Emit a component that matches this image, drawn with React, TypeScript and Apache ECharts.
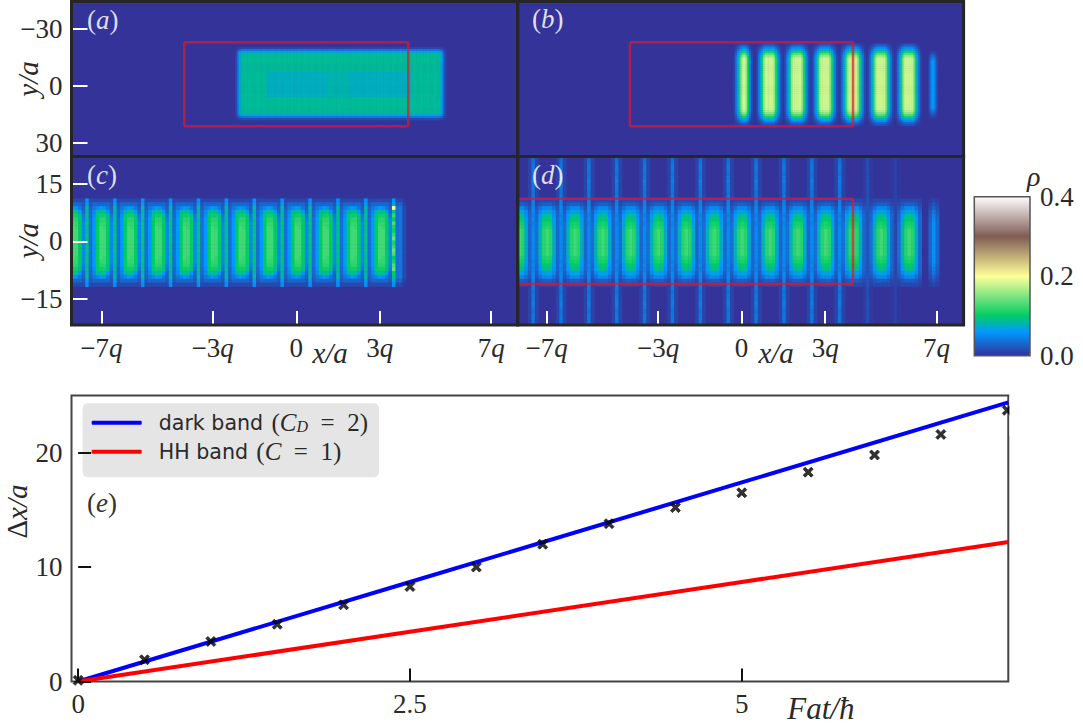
import React, { useEffect, useRef } from "react";
import * as echarts from "echarts";

// ---------- colour scale ("terrain") ----------
const terrainStops = [
  "#333399", "#2255bb", "#1177dd", "#0099ff", "#00b2b2", "#00cc66", "#33d670",
  "#66e07a", "#99eb85", "#ccf58f", "#ffff99", "#e6de8b", "#ccbe7d", "#b39d70",
  "#997d62", "#805c54", "#997d76", "#b39d98", "#ccbebb", "#e6dedd", "#ffffff",
];

// ---------- panel (a): flat block ----------
const aOuterColumnRuns = [[0.012, 1], [0.035, 1], [0.065, 1], [0.08, 1], [0.087, 113], [0.08, 1], [0.065, 1], [0.035, 1], [0.012, 1]];
const aInnerColumnRuns = [[0.012, 1], [0.035, 1], [0.065, 1], [0.08, 1], [0.087, 14], [0.077, 35], [0.081, 13], [0.077, 35], [0.087, 16], [0.08, 1], [0.065, 1], [0.035, 1], [0.012, 1]];
const aRowEdgeWeights = [0.15, 0.45, 0.8];
const aBlockStart = { q: -2.18, y: -19.8 };
const aBlockRows = 38;
const aInnerRows = [13, 25];

// ---------- panel (b): stripes ----------
const bStripeCentres = [1, 2, 3, 4, 5, 6];
const bStripeColumns = [0.012, 0.04, 0.07, 0.11, 0.155, 0.18, 0.18, 0.18, 0.18, 0.18, 0.155, 0.11, 0.07, 0.04, 0.012];
const bFirstCentre = 0.04;
const bFirstColumns = [0.012, 0.04, 0.07, 0.11, 0.155, 0.18, 0.18, 0.155, 0.1, 0.05, 0.015];
const bStripeRows = [0.1, 0.2, 0.32, 0.46, 0.6, 0.74, 0.86, 0.95, 1, 1, 1, 1, 1, 1, 1, 1, 1, 1, 1, 1, 1, 1];
const bLastCentre = 6.84;
const bLastColumns = [0.02, 0.05, 0.06, 0.05, 0.02];
const bLastRows = [0.15, 0.3, 0.5, 0.7, 0.85, 1, 1, 1, 1, 1, 1, 1, 1, 1, 1, 1, 1, 1];

// ---------- panel (c): pixelated stripes ----------
const cStripeCentres = [-8, -7, -6, -5, -4, -3, -2, -1, 0, 1, 2, 3];
const cStripeRows = [
  [0.012, 0.012, 0.012, 0.012, 0.012, 0.012, 0.012],
  [0.02, 0.03, 0.03, 0.03, 0.03, 0.03, 0.02],
  [0.025, 0.04, 0.05, 0.06, 0.055, 0.04, 0.025],
  [0.03, 0.05, 0.08, 0.09, 0.09, 0.06, 0.03],
  [0.03, 0.055, 0.095, 0.105, 0.105, 0.09, 0.04],
  [0.035, 0.06, 0.1, 0.115, 0.115, 0.095, 0.045],
  [0.035, 0.06, 0.1, 0.12, 0.12, 0.1, 0.05],
  [0.035, 0.06, 0.1, 0.125, 0.12, 0.1, 0.05],
  [0.035, 0.06, 0.1, 0.125, 0.125, 0.1, 0.05],
  [0.035, 0.06, 0.1, 0.125, 0.125, 0.1, 0.05],
  [0.035, 0.06, 0.1, 0.125, 0.125, 0.1, 0.05],
  [0.035, 0.06, 0.1, 0.125, 0.125, 0.1, 0.05],
];
const cThinCentres = [-7.5, -6.5, -5.5, -4.5, -3.5, -2.5, -1.5, -0.5, 0.5, 1.5, 2.5];
const cThinRows = [0.055, 0.06, 0.085, 0.08, 0.09, 0.085, 0.095, 0.09, 0.085, 0.095, 0.09, 0.095, 0.09, 0.095, 0.085, 0.09, 0.095, 0.085, 0.09, 0.08, 0.085, 0.06, 0.055];
const cLastThinCentre = 3.5;
const cLastThinRows = [0.055, 0.07, 0.2, 0.09, 0.12, 0.1, 0.13, 0.11, 0.105, 0.12, 0.14, 0.11, 0.12, 0.14, 0.13, 0.1, 0.11, 0.13, 0.14, 0.1, 0.09, 0.07, 0.055];
const cTailColumns = [0.035, 0.04, 0.012];
const cTailRows = [0.3, 0.7, 1, 1, 1, 1, 1, 1, 1, 1, 1, 1];

// ---------- panel (d): pixelated stripes and full-height lines ----------
const dStripeCentres = [-8, -7, -6, -5, -4, -3, -2, -1, 0, 1, 2, 3, 4, 5, 6];
const dStripeRows = [
  [0.008, 0.012, 0.012, 0.012, 0.012, 0.012, 0.008],
  [0.012, 0.02, 0.025, 0.025, 0.025, 0.02, 0.012],
  [0.02, 0.035, 0.05, 0.05, 0.05, 0.035, 0.02],
  [0.025, 0.05, 0.065, 0.07, 0.065, 0.05, 0.025],
  [0.03, 0.06, 0.085, 0.09, 0.085, 0.055, 0.03],
  [0.03, 0.065, 0.095, 0.1, 0.095, 0.06, 0.03],
  [0.035, 0.07, 0.105, 0.11, 0.105, 0.065, 0.03],
  [0.035, 0.075, 0.11, 0.115, 0.11, 0.07, 0.03],
  [0.035, 0.08, 0.115, 0.125, 0.115, 0.075, 0.03],
  [0.035, 0.08, 0.115, 0.125, 0.115, 0.075, 0.03],
  [0.035, 0.08, 0.115, 0.125, 0.115, 0.075, 0.03],
  [0.035, 0.08, 0.115, 0.125, 0.115, 0.075, 0.03],
];
const dThinCentres = [-7.5, -6.5, -5.5, -4.5, -3.5, -2.5, -1.5, -0.5, 0.5, 1.5, 2.5, 3.5, 4.5, 5.5];
const dThinStrengths = [1, 1, 1, 1, 1, 1, 1, 1, 1, 1, 1, 1, 0.4, 0.22];
const dThinRows = [0.032, 0.036, 0.04, 0.04, 0.036, 0.04, 0.044, 0.04, 0.04, 0.036, 0.04, 0.045, 0.045, 0.05, 0.05, 0.045, 0.05, 0.045, 0.05, 0.05, 0.05, 0.05, 0.05];
const dHalo = 0.01;
const dLastCentre = 6.84;
const dLastColumns = [0.03, 0.055, 0.03];
const dLastRows = [0.2, 0.35, 0.5, 0.7, 0.8, 0.9, 1, 1, 1, 1, 1, 1];

// ---------- red rectangles (q, y/a) ----------
const rectA = [[-4.02, -22.9], [4.02, -22.9], [4.02, 21.1], [-4.02, 21.1], [-4.02, -22.9]];
const rectB = [[-4.01, -22.9], [4.0, -22.9], [4.0, 21.1], [-4.01, 21.1], [-4.01, -22.9]];
const rectD = [[-8.6, 11.15], [4.0, 11.15], [4.0, -11.2], [-8.6, -11.2], [-8.6, 11.15]];

// ---------- panel (e) ----------
const fValues = [0, 0.5, 1, 1.5, 2, 2.5, 3, 3.5, 4, 4.5, 5, 5.5, 6, 6.5, 7];
const crossValues = [0.1, 1.9, 3.5, 5.0, 6.7, 8.3, 10.0, 12.0, 13.8, 15.2, 16.5, 18.3, 19.8, 21.6, 23.7];
const lineF = [0, 2.5, 5, 7.008];
const darkBand = [0, 8.7, 17.4, 24.4];
const hhBand = [0, 4.35, 8.7, 12.2];

const xTicksQ = [-7, -3, 0, 3, 7];
const yTicksTop = [-30, 0, 30];
const yTicksBottom = [-15, 0, 15];
const eXTicks = [0, 2.5, 5];
const eYTicks = [0, 10, 20];
const DARK_NAME = "dark band (C_D = 2)";
const HH_NAME = "HH band (C = 1)";

// ---------- layout ----------
const L = 71.5, M = 517.7, R = 963.6, T = 1.5, H = 156.5, B = 325;
const SERIF = "Liberation Serif";
const INK = "#2a2a2a";
const TICK_SIZE = 27;
const NAME_SIZE = 29;

type Panel = { xMin: number; xMax: number; yFirst: number; yLast: number; nx: number; cols: number; rows: number; cells: number[][] };
const makePanel = (xMin: number, xMax: number, yFirst: number, yLast: number, nx: number, rows: number): Panel => {
  const cols = Math.round((xMax - xMin) * nx);
  return { xMin, xMax, yFirst, yLast, nx, cols, rows, cells: Array.from({ length: rows }, () => new Array(cols).fill(0)) };
};
const colOf = (p: Panel, q: number) => Math.floor((q - p.xMin) * p.nx);
const rowOf = (p: Panel, y: number) => Math.floor(((y - p.yFirst) / (p.yLast - p.yFirst)) * p.rows);
const put = (p: Panel, c: number, r: number, v: number) => {
  if (c >= 0 && c < p.cols && r >= 0 && r < p.rows) p.cells[r][c] = v;
};
const expand = (runs: number[][]) => runs.flatMap(([v, n]) => new Array(n).fill(v));
const mirror = (half: any[]) => half.concat(half.slice(0, -1).reverse());
const toData = (p: Panel) => {
  const out: number[][] = [];
  p.cells.forEach((row, r) => row.forEach((v, c) => { if (v > 0) out.push([c, r, v]); }));
  return out;
};
const stamp = (p: Panel, q: number, y: number, cols: number[], halfRows: number[]) => {
  const rows = mirror(halfRows);
  const c0 = colOf(p, q) - Math.floor(cols.length / 2);
  const r0 = rowOf(p, y) - Math.floor(rows.length / 2);
  rows.forEach((w: number, i: number) => cols.forEach((v, j) => put(p, c0 + j, r0 + i, v * w)));
};

const buildA = () => {
  const p = makePanel(-8.07, 7.95, -44.3, 37, 16, 81);
  const outer = expand(aOuterColumnRuns), inner = expand(aInnerColumnRuns);
  const c0 = colOf(p, aBlockStart.q), r0 = rowOf(p, aBlockStart.y);
  for (let r = 0; r < aBlockRows; r++) {
    const edge = Math.min(r, aBlockRows - 1 - r);
    const w = edge < aRowEdgeWeights.length ? aRowEdgeWeights[edge] : 1;
    const src = r >= aInnerRows[0] && r <= aInnerRows[1] ? inner : outer;
    src.forEach((v, j) => put(p, c0 + j, r0 + r, v * w));
  }
  return p;
};
const buildB = () => {
  const p = makePanel(-8.04, 7.97, -44.3, 37, 16, 81);
  stamp(p, bFirstCentre, -0.95, bFirstColumns, bStripeRows);
  bStripeCentres.forEach((q) => stamp(p, q, -0.95, bStripeColumns, bStripeRows));
  stamp(p, bLastCentre, -0.95, bLastColumns, bLastRows);
  return p;
};
const buildC = () => {
  const p = makePanel(-8.07, 7.95, 22.2, -21.9, 8, 44);
  const r0 = rowOf(p, 0) - 11;
  const rows = mirror(cStripeRows);
  cStripeCentres.forEach((q) => {
    const c = colOf(p, q);
    rows.forEach((row: number[], i: number) => row.forEach((v, j) => put(p, c - 3 + j, r0 + i, v)));
  });
  cThinCentres.forEach((q) => cThinRows.forEach((v, i) => put(p, colOf(p, q), r0 + i, v)));
  cLastThinRows.forEach((v, i) => put(p, colOf(p, cLastThinCentre), r0 + i, v));
  mirror(cTailRows).forEach((w: number, i: number) => cTailColumns.forEach((v, j) => put(p, colOf(p, cLastThinCentre) + 1 + j, r0 + i, v * w)));
  return p;
};
const buildD = () => {
  const p = makePanel(-8.04, 7.97, 22.2, -21.9, 8, 44);
  const thin = mirror(dThinRows);
  const r00 = rowOf(p, 0) - 22;
  dThinCentres.forEach((q, k) => {
    const c = colOf(p, q);
    thin.forEach((v: number, i: number) => {
      put(p, c - 1, r00 + i, dHalo * dThinStrengths[k]);
      put(p, c + 1, r00 + i, dHalo * dThinStrengths[k]);
    });
  });
  const r0 = rowOf(p, 0) - 11;
  const rows = mirror(dStripeRows);
  dStripeCentres.forEach((q) => {
    const c = colOf(p, q);
    rows.forEach((row: number[], i: number) => row.forEach((v, j) => put(p, c - 3 + j, r0 + i, v)));
  });
  dThinCentres.forEach((q, k) => {
    const c = colOf(p, q);
    thin.forEach((v: number, i: number) => put(p, c, r00 + i, v * dThinStrengths[k]));
  });
  stamp(p, dLastCentre, 0, dLastColumns, dLastRows);
  return p;
};

const mathRich = {
  n: { fontFamily: SERIF, fontSize: TICK_SIZE, color: INK },
  i: { fontFamily: SERIF, fontSize: TICK_SIZE, fontStyle: "italic", color: INK },
};
const signed = (v: number) => (v < 0 ? "\u2212" + Math.abs(v) : String(v));

export default function App() {
  const ref = useRef<HTMLDivElement>(null);
  useEffect(() => {
    const chart = echarts.init(ref.current!, undefined, { renderer: "svg" });
    const panels = [buildA(), buildB(), buildC(), buildD()];
    const boxes = [
      [L, T, M, H],
      [M, T, R, H],
      [L, H, M, B],
      [M, H, R, B],
    ];
    const grids: any[] = boxes.map(([x0, y0, x1, y1]) => ({
      left: x0, top: y0, width: x1 - x0, height: y1 - y0, show: true, backgroundColor: "#333399", borderWidth: 0, outerBoundsMode: "none",
    }));
    grids.push({ left: 71.5, top: 395.5, width: 936.8, height: 286, show: true, backgroundColor: "#fff", borderColor: "#444", borderWidth: 2, outerBoundsMode: "none" });
    grids.push({ left: 974.3, top: 196.7, width: 55.7, height: 159, outerBoundsMode: "none" });

    const xAxes: any[] = [], yAxes: any[] = [], series: any[] = [];
    panels.forEach((p, k) => {
      const hasX = k >= 2, hasY = k === 0 || k === 2;
      xAxes.push({ type: "category", gridIndex: k, show: false, data: Array.from({ length: p.cols }, (_, i) => String(i)) });
      yAxes.push({ type: "category", gridIndex: k, show: false, inverse: true, data: Array.from({ length: p.rows }, (_, i) => String(i)) });
      xAxes.push({
        type: "value", gridIndex: k, position: "bottom", min: p.xMin, max: p.xMax, show: hasX, z: 5,
        axisLine: { show: false }, splitLine: { show: false },
        axisTick: { show: true, inside: true, length: 14, customValues: xTicksQ, lineStyle: { color: "#fff", width: 2 } },
        axisLabel: {
          show: true, margin: 9, customValues: xTicksQ, color: INK, rich: mathRich,
          formatter: (v: number) => (v === 0 ? "{n|0}" : `{n|${v < 0 ? "\u2212" : ""}${Math.abs(v)}}{i|q}`),
        },
        name: "x/a", nameLocation: "middle", nameGap: 13, nameMoveOverlap: false,
        nameTextStyle: { fontFamily: SERIF, fontSize: NAME_SIZE, fontStyle: "italic", color: INK, padding: [0, 0, 0, 71] },
      });
      yAxes.push({
        type: "value", gridIndex: k, position: "left", show: hasY, z: 5,
        min: k < 2 ? p.yFirst : p.yLast, max: k < 2 ? p.yLast : p.yFirst, inverse: k < 2,
        axisLine: { show: false }, splitLine: { show: false },
        axisTick: { show: true, inside: true, length: 16, customValues: k < 2 ? yTicksTop : yTicksBottom, lineStyle: { color: "#fff", width: 2 } },
        axisLabel: { show: true, margin: 9, customValues: k < 2 ? yTicksTop : yTicksBottom, fontFamily: SERIF, fontSize: TICK_SIZE, color: INK, formatter: signed },
        name: "y/a", nameLocation: "middle", nameGap: 29, nameRotate: 90, nameMoveOverlap: false,
        nameTextStyle: { fontFamily: SERIF, fontSize: NAME_SIZE, fontStyle: "italic", color: INK },
      });
      series.push({
        type: "heatmap", xAxisIndex: 2 * k, yAxisIndex: 2 * k, data: toData(p), progressive: 0, silent: true,
        emphasis: { disabled: true },
      });
    });
    const rectStyle = { color: "rgba(226,22,44,0.72)", width: 2.5 };
    [[0, rectA], [1, rectB], [3, rectD]].forEach(([k, pts]: any) => {
      series.push({
        type: "line", xAxisIndex: 2 * k + 1, yAxisIndex: 2 * k + 1, data: pts, symbol: "none", silent: true, z: 4,
        lineStyle: rectStyle, clip: true,
      });
    });

    // panel (e)
    const eX = xAxes.length, eY = yAxes.length;
    xAxes.push({
      type: "value", gridIndex: 4, min: -0.05, max: 7.008, z: 5,
      axisLine: { show: false }, splitLine: { show: false },
      axisTick: { show: true, inside: true, length: 13, customValues: eXTicks, lineStyle: { color: "#111", width: 2 } },
      axisLabel: { margin: 9, customValues: eXTicks, fontFamily: SERIF, fontSize: TICK_SIZE, color: INK, formatter: (v: number) => String(v) },
      name: "Fat/\u0127", nameLocation: "middle", nameGap: 11, nameMoveOverlap: false,
      nameTextStyle: { fontFamily: SERIF, fontSize: 31, fontStyle: "italic", color: INK, padding: [0, 0, 0, 562] },
    });
    yAxes.push({
      type: "value", gridIndex: 4, min: 0, max: 25, z: 5,
      axisLine: { show: false }, splitLine: { show: false },
      axisTick: { show: true, inside: true, length: 13, customValues: eYTicks, lineStyle: { color: "#111", width: 2 } },
      axisLabel: { margin: 9, customValues: eYTicks, fontFamily: SERIF, fontSize: TICK_SIZE, color: INK, formatter: (v: number) => String(v) },
      name: "{u|\u0394}{i|x/a}", nameLocation: "middle", nameGap: 40, nameRotate: 90, nameMoveOverlap: false,
      nameTextStyle: {
        padding: [0, 0, 0, 54],
        rich: { u: { fontFamily: SERIF, fontSize: NAME_SIZE, color: INK }, i: { fontFamily: SERIF, fontSize: NAME_SIZE, fontStyle: "italic", color: INK } },
      },
    });
    const bandLine = (name: string, ys: number[], color: string) => ({
      name, type: "line", xAxisIndex: eX, yAxisIndex: eY, data: lineF.map((f, i) => [f, ys[i]]), symbol: "none", silent: true, z: 3,
      lineStyle: { color, width: 4 }, itemStyle: { color },
    });
    series.push(bandLine(DARK_NAME, darkBand, "#0000ff"), bandLine(HH_NAME, hhBand, "#ff0000"));
    series.push({
      name: "simulation", type: "scatter", xAxisIndex: eX, yAxisIndex: eY, data: fValues.map((f, i) => [f, crossValues[i]]), silent: true, z: 4,
      symbol: "path://M2 0 L5 3 L8 0 L10 2 L7 5 L10 8 L8 10 L5 7 L2 10 L0 8 L3 5 L0 2 Z", symbolSize: 10, itemStyle: { color: "#000", borderColor: "#000", borderWidth: 0.8 },
    });

    // colour bar axis
    xAxes.push({ type: "value", gridIndex: 5, show: false, min: 0, max: 1 });
    yAxes.push({
      type: "value", gridIndex: 5, position: "right", min: 0, max: 0.4, interval: 0.2,
      axisLine: { show: false }, axisTick: { show: false }, splitLine: { show: false },
      axisLabel: { margin: 10, fontFamily: SERIF, fontSize: TICK_SIZE, color: INK, formatter: (v: number) => v.toFixed(1) },
    });

    const tag = (t: string, x: number, y: number, fill: string) => ({
      type: "text", x, y, z: 12, silent: true,
      style: {
        text: `{p|(}{i|${t}}{p|)}`, fill, verticalAlign: "middle",
        rich: {
          p: { fontFamily: SERIF, fontSize: 27, fill, color: fill },
          i: { fontFamily: SERIF, fontSize: 27, fontStyle: "italic", fill, color: fill },
        },
      },
    });
    const frame = ([x0, y0, x1, y1]: number[]) => ({
      type: "rect", z: 10, silent: true, shape: { x: x0, y: y0, width: x1 - x0, height: y1 - y0 },
      style: { fill: "none", stroke: "#262626", lineWidth: 3 },
    });

    chart.setOption({
      animation: false,
      backgroundColor: "#fff",
      grid: grids,
      xAxis: xAxes,
      yAxis: yAxes,
      series,
      visualMap: {
        type: "continuous", min: 0, max: 0.4, seriesIndex: [0, 1, 2, 3], left: 974.3, top: 196.7, itemWidth: 55.7, itemHeight: 159,
        padding: 0, calculable: false, hoverLink: false, realtime: false, inRange: { color: terrainStops }, showLabel: false,
      },
      legend: {
        left: 82.7, top: 403.3, padding: [7, 11, 13, 9], itemWidth: 50, itemHeight: 4, itemGap: 4, orient: "vertical", icon: "roundRect",
        backgroundColor: "#e5e5e5", borderRadius: 5, selectedMode: false, data: [DARK_NAME, HH_NAME], align: "left",
        textStyle: {
          padding: [0, 0, 0, 12],
          rich: {
            s: { fontFamily: "DejaVu Sans", fontSize: 20.6, color: INK, lineHeight: 28 },
            m: { fontFamily: SERIF, fontSize: 25, color: INK, lineHeight: 28 },
            v: { fontFamily: SERIF, fontSize: 25, fontStyle: "italic", color: INK, lineHeight: 28 },
            g: { fontSize: 6, lineHeight: 28 },
            sub: { fontFamily: SERIF, fontSize: 16, fontStyle: "italic", color: INK, padding: [8, 0, 0, 0] },
          },
        },
        formatter: (n: string) =>
          n === DARK_NAME
            ? "{s|dark band}  {g| }{m|(}{v|C}{sub|D}{m|\u2002=\u20022)}"
            : "{s|HH band}  {g| }{m|(}{v|C}{m|\u2002=\u20021)}",
      },
      graphic: [
        ...boxes.map(frame),
        { type: "rect", z: 10, silent: true, shape: { x: 974.3, y: 196.7, width: 55.7, height: 159 }, style: { fill: "none", stroke: "#555", lineWidth: 1.5 } },
        { type: "rect", z: 9, silent: true, shape: { x: 1009.5, y: 396, width: 12, height: 40 }, style: { fill: "#fff" } },
        tag("a", 87, 20, "rgba(255,255,255,0.85)"),
        tag("b", 532, 19, "rgba(255,255,255,0.85)"),
        tag("c", 87, 175, "rgba(255,255,255,0.85)"),
        tag("d", 532, 175, "rgba(255,255,255,0.85)"),
        tag("e", 87, 503, "#333"),
        { type: "text", x: 1027, y: 176, z: 12, silent: true, style: { text: "\u03c1", fontFamily: SERIF, fontSize: 28, fontStyle: "italic", fill: INK, verticalAlign: "middle" } },
      ],
    });
    return () => chart.dispose();
  }, []);
  return <div ref={ref} style={{ position: "absolute", left: 0, top: 0, width: 1083, height: 726 }} />;
}
